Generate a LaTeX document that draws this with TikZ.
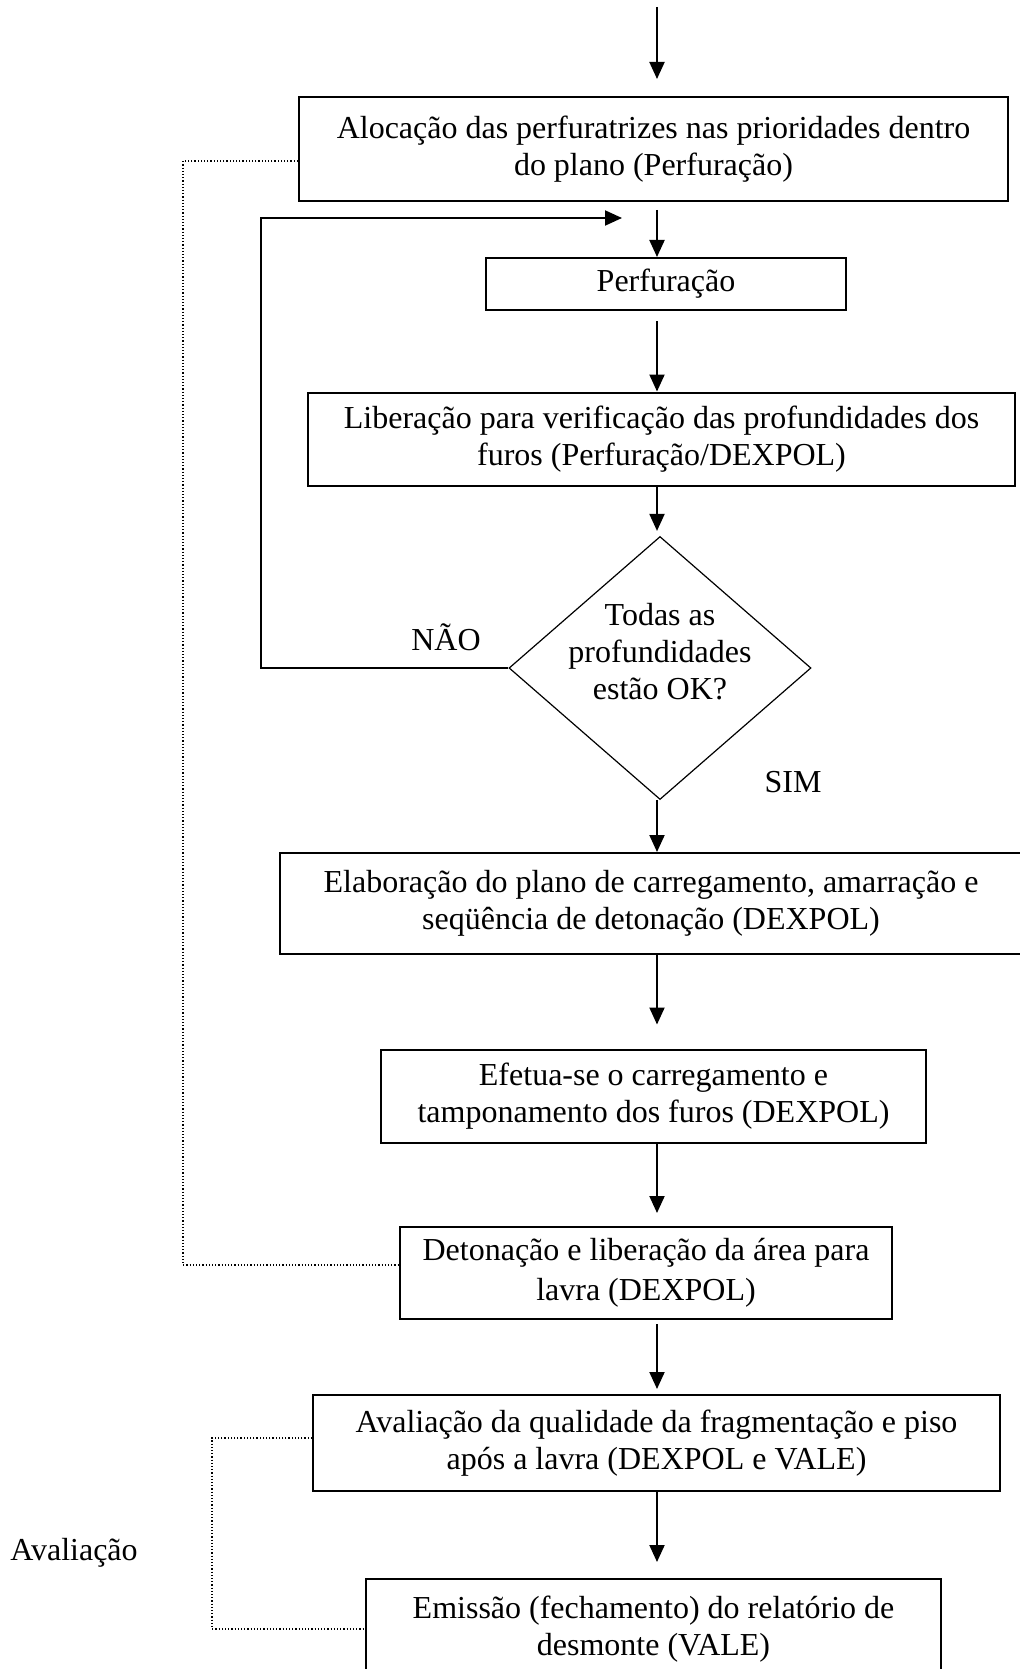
\documentclass[tikz,border=0pt]{standalone}
\usepackage{fontspec}
\setmainfont{Liberation Serif}
\usepackage{tikz}
\usetikzlibrary{
  arrows.meta,
  shapes.geometric,
  positioning,
  calc
}

\begin{document}
\begin{tikzpicture}[x=0.5pt, y=-0.5pt,
  font=\fontsize{16}{18.5}\selectfont,
  box/.style={draw, line width=1pt, align=center, inner sep=0pt},
  decision/.style={draw, diamond, line width=0.6pt, inner sep=0pt, minimum width=151pt, minimum height=131.5pt},
  arrowline/.style={-{Triangle[length=8.5pt, width=7.5pt]}, line width=1pt},
  dottedlink/.style={densely dotted, line width=0.6pt}]
  \useasboundingbox (0,0) rectangle (1019,1669);
  \coordinate (axis) at (657,0);
  \coordinate (start) at (657,7);
  \node[box, minimum width=354.5pt, minimum height=52pt] (alocacao) at (653.5,149) {Alocação das perfuratrizes nas prioridades dentro\\do plano (Perfuração)};
  \node[box, minimum width=180pt, minimum height=26pt] (perfuracao) at (666,284) {Perfuração};
  \node[box, minimum width=353.5pt, minimum height=46.5pt] (liberacao) at (661.5,439) {Liberação para verificação das profundidades dos\\furos (Perfuração/DEXPOL)};
  \node[decision] (check) at (660,668) {};
  \node[align=center] (checktext) at (660,652) {Todas as\\profundidades\\estão OK?};
  \node[box, minimum width=371pt, minimum height=50.5pt] (elaboracao) at (651,903.5) {Elaboração do plano de carregamento, amarração e\\seqüência de detonação (DEXPOL)};
  \node[box, minimum width=272.5pt, minimum height=46.5pt] (efetua) at (653.5,1096) {Efetua-se o carregamento e\\tamponamento dos furos (DEXPOL)};
  \node[box, minimum width=246pt, minimum height=46pt] (detonacao) at (646,1273) {Detonação e liberação da área para\\[1.5pt]lavra (DEXPOL)};
  \node[box, minimum width=343.5pt, minimum height=48pt] (avaliacao) at (656.5,1443) {Avaliação da qualidade da fragmentação e piso\\após a lavra (DEXPOL e VALE)};
  \node[box, minimum width=287.5pt, minimum height=50pt] (emissao) at (653.5,1629) {Emissão (fechamento) do relatório de\\desmonte (VALE)};
  \node (nao) at (446,637) {NÃO};
  \node (sim) at (793,782) {SIM};
  \node (avaliacaotag) at (74,1553) {Avaliação};

  \draw[arrowline, shorten >=8.5pt] (start) -- (alocacao.north -| axis);
  \draw[arrowline, shorten <=4pt] (alocacao.south -| axis) -- (perfuracao.north -| axis);
  \draw[arrowline, shorten <=5pt] (perfuracao.south -| axis) -- (liberacao.north -| axis);
  \draw[arrowline, shorten >=2.5pt] (liberacao.south -| axis) -- (check.north -| axis);
  \draw[arrowline] (check.south -| axis) -- (elaboracao.north -| axis);
  \draw[arrowline, shorten >=12pt] (elaboracao.south -| axis) -- (efetua.north -| axis);
  \draw[arrowline, shorten >=6.5pt] (efetua.south -| axis) -- (detonacao.north -| axis);
  \draw[arrowline, shorten <=2pt, shorten >=2.5pt] (detonacao.south -| axis) -- (avaliacao.north -| axis);
  \draw[arrowline, shorten >=8pt] (avaliacao.south -| axis) -- (emissao.north -| axis);

  \coordinate (loopcorner) at (261,218);
  \coordinate (loopend) at (622,218);
  \draw[arrowline] (check.west) -| (loopcorner) -- (loopend);

  \draw[dottedlink] ([yshift=-6pt]alocacao.west) -- ++(-115,0) |- ([yshift=4pt]detonacao.west);
  \draw[dottedlink] ([yshift=2.5pt]avaliacao.west) -- ++(-100,0) |- (emissao.west);
\end{tikzpicture}
\end{document}
